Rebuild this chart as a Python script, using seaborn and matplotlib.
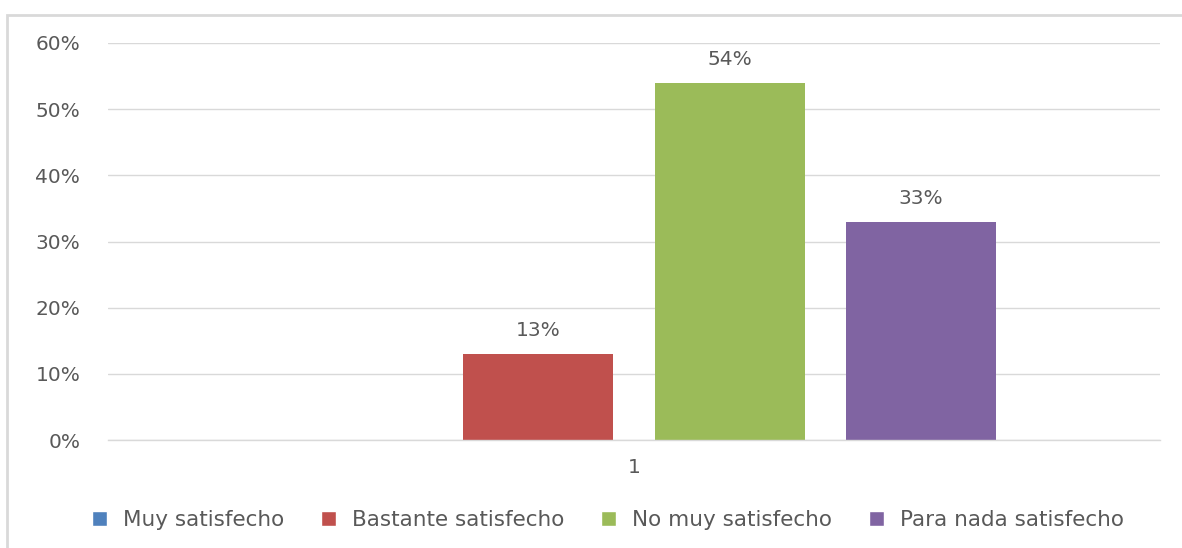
import matplotlib
matplotlib.use("Agg")
import matplotlib.pyplot as plt
from matplotlib.patches import Rectangle
import seaborn as sns
import pandas as pd

categories = ["1"]
series = ["Muy satisfecho", "Bastante satisfecho", "No muy satisfecho", "Para nada satisfecho"]
values = [0, 13, 54, 33]
colors = ["#4F81BD", "#C0504D", "#9BBB59", "#8064A2"]
yticks = [0, 10, 20, 30, 40, 50, 60]

df = pd.DataFrame({
    "cat": categories * len(series),
    "serie": series,
    "valor": values,
})

sns.set_theme(style="white")
plt.rcParams["font.family"] = ["DejaVu Sans"]

W, H = 1182, 548
fig = plt.figure(figsize=(W / 100, H / 100), dpi=100)
ax = fig.add_axes([108 / W, 1 - 440 / H, (1160 - 108) / W, (440 - 43) / H])

sns.barplot(data=df, x="cat", y="valor", hue="serie", hue_order=series,
            palette=colors, width=0.728, gap=0.215, saturation=1,
            linewidth=0, legend=False, ax=ax)

ax.set_xlim(-0.5, 0.5)
ax.set_ylim(0, 60)
ax.set_yticks(yticks)
ax.set_yticklabels([f"{t}%" for t in yticks])
ax.grid(axis="y", color="#D9D9D9", linewidth=1)
ax.set_axisbelow(True)
for s in ["top", "right", "left"]:
    ax.spines[s].set_visible(False)
ax.spines["bottom"].set_color("#D9D9D9")
ax.spines["bottom"].set_linewidth(1)
ax.tick_params(axis="both", length=0, labelsize=14.5, colors="#595959")
ax.tick_params(axis="y", pad=20)
ax.tick_params(axis="x", pad=13)
ax.set_xlabel("")
ax.set_ylabel("")

# value labels above the non-empty bars
for cont, v in zip(ax.containers, values):
    if v > 0:
        ax.bar_label(cont, labels=[f"{v}%"], padding=10, fontsize=14.5, color="#595959")

# legend along the bottom
handles = [Rectangle((0, 0), 1, 1, facecolor=c) for c in colors]
fig.legend(handles, series, loc="center", bbox_to_anchor=(608 / W, 1 - 520 / H),
           ncol=4, frameon=False, fontsize=15.5, handlelength=0.7, handleheight=0.7,
           handletextpad=0.75, columnspacing=1.7, labelcolor="#595959")

# chart-area border
fig.patches.append(Rectangle((7 / W, -0.05), 1.1, (1 - 15 / H) + 0.05,
                             transform=fig.transFigure, fill=False,
                             edgecolor="#D9D9D9", linewidth=2))

fig.savefig("out.png", dpi=100, facecolor="white")
